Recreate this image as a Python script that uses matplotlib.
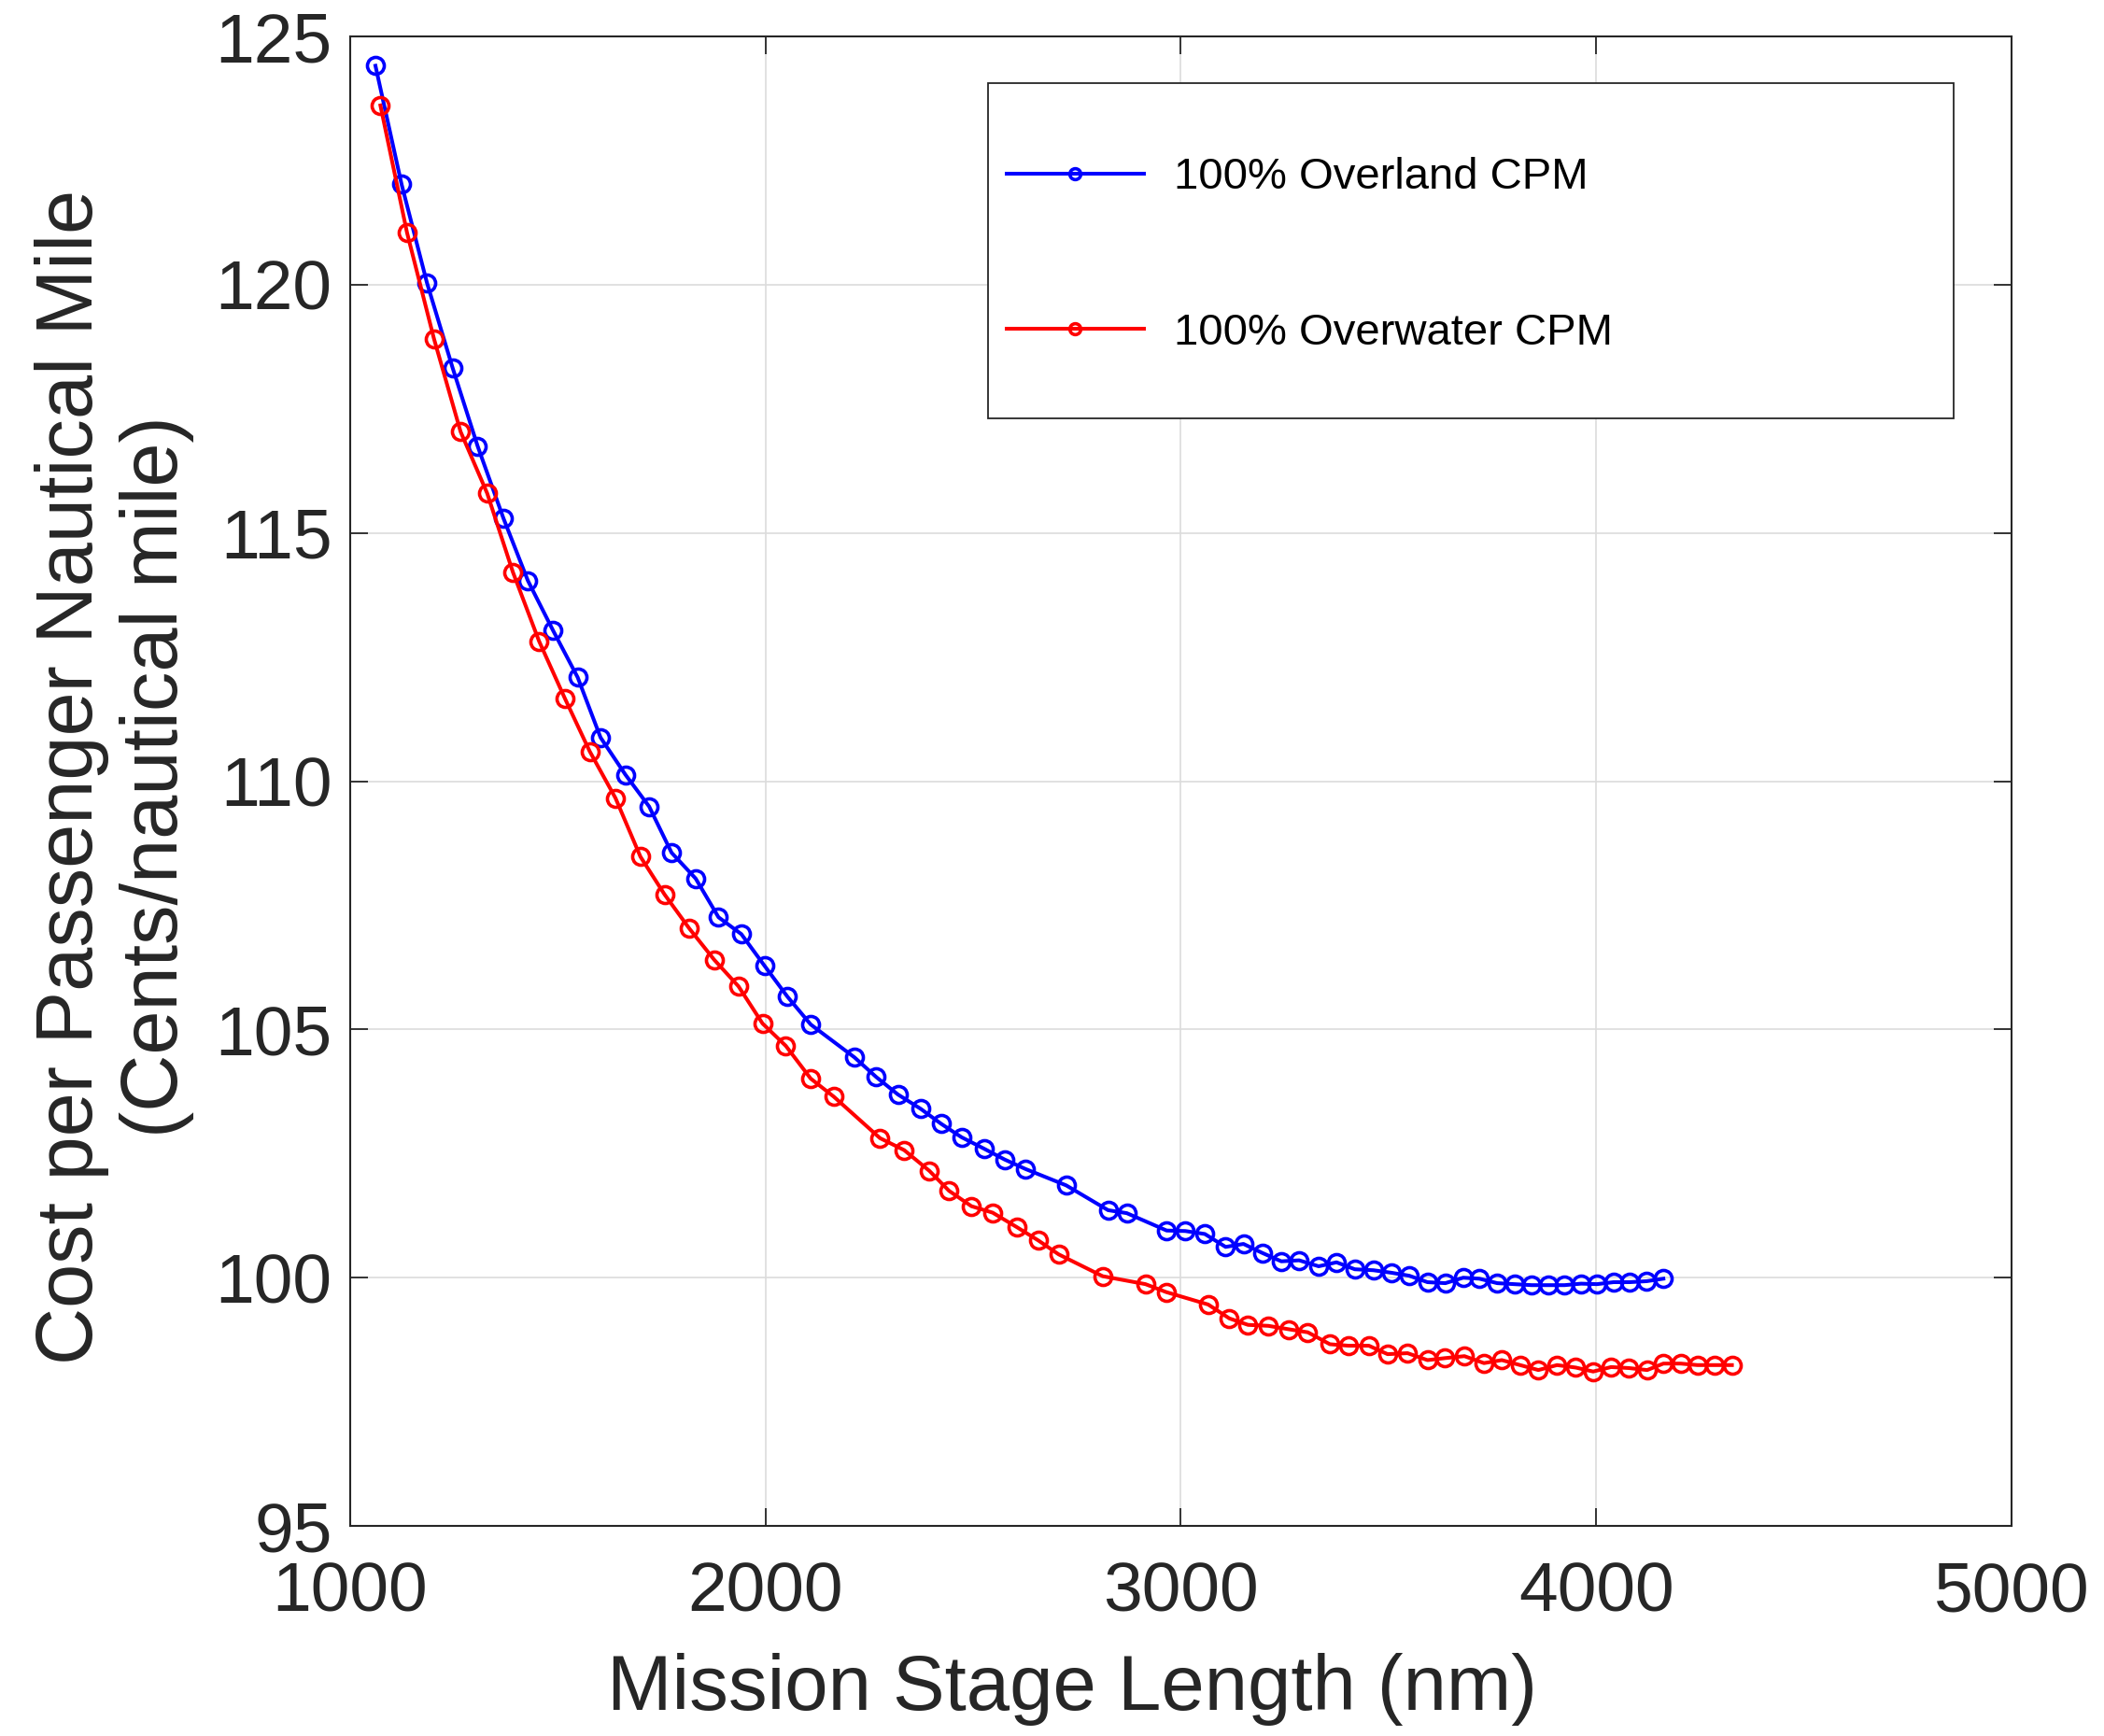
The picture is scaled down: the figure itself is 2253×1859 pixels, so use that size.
import matplotlib
matplotlib.use("Agg")
import matplotlib.pyplot as plt
from matplotlib.patches import Rectangle

plt.rcParams['font.family'] = ['Liberation Sans', 'DejaVu Sans']

# Overland series (stage length nm, cents per nautical mile)
overland_x = [1061, 1124, 1185, 1247, 1307, 1369, 1428, 1489, 1548, 1603, 1663, 1720,
              1774, 1832, 1887, 1942, 1998, 2053, 2109, 2214, 2267, 2319, 2374, 2423,
              2472, 2526, 2576, 2626, 2724, 2825, 2870, 2966, 3011, 3058, 3108, 3151,
              3196, 3242, 3285, 3332, 3375, 3419, 3464, 3507, 3550, 3594, 3637, 3680,
              3719, 3762, 3803, 3845, 3884, 3924, 3964, 4002, 4042, 4081, 4122, 4162]
overland_y = [124.41, 122.02, 120.04, 118.32, 116.75, 115.30, 114.04, 113.03, 112.09, 110.88,
              110.13, 109.49, 108.56, 108.04, 107.26, 106.92, 106.28, 105.66, 105.10, 104.44,
              104.04, 103.69, 103.40, 103.10, 102.83, 102.60, 102.38, 102.19, 101.86, 101.36,
              101.30, 100.95, 100.94, 100.88, 100.62, 100.68, 100.50, 100.33, 100.35, 100.23,
              100.31, 100.17, 100.15, 100.10, 100.04, 99.91, 99.89, 100.00, 99.98, 99.89,
              99.87, 99.85, 99.85, 99.85, 99.88, 99.87, 99.91, 99.91, 99.93, 99.98]

# Overwater series
overwater_x = [1073, 1137, 1202, 1266, 1330, 1392, 1455, 1517, 1577, 1639, 1699, 1757,
               1817, 1877, 1935, 1993, 2049, 2109, 2164, 2276, 2334, 2395, 2442, 2496,
               2547, 2605, 2657, 2706, 2812, 2915, 2965, 3066, 3117, 3162, 3211, 3261,
               3306, 3359, 3404, 3453, 3498, 3546, 3594, 3636, 3683, 3730, 3773, 3817,
               3861, 3906, 3951, 3993, 4036, 4079, 4123, 4162, 4204, 4244, 4285, 4327]
overwater_y = [123.61, 121.05, 118.91, 117.04, 115.80, 114.21, 112.82, 111.67, 110.60, 109.66,
               108.48, 107.72, 107.03, 106.40, 105.87, 105.12, 104.67, 104.01, 103.65, 102.81,
               102.57, 102.15, 101.75, 101.44, 101.31, 101.02, 100.75, 100.47, 100.03, 99.87,
               99.71, 99.46, 99.18, 99.05, 99.03, 98.96, 98.90, 98.66, 98.63, 98.63,
               98.46, 98.48, 98.34, 98.38, 98.42, 98.28, 98.34, 98.24, 98.14, 98.24,
               98.19, 98.11, 98.20, 98.18, 98.14, 98.27, 98.27, 98.24, 98.24, 98.24]

x_ticks = [1000, 2000, 3000, 4000, 5000]
y_ticks = [95, 100, 105, 110, 115, 120, 125]

fig = plt.figure(figsize=(22.53, 18.59), dpi=100)
ax = fig.add_axes([0.1664, 0.121, 0.7896, 0.858])

ax.plot(overland_x, overland_y, '-o', color='#0000ff', lw=2.9, ms=13,
        mfc='none', mew=2.6, label='100% Overland CPM')
ax.plot(overwater_x, overwater_y, '-o', color='#ff0000', lw=2.9, ms=13,
        mfc='none', mew=2.6, label='100% Overwater CPM')

ax.set_xlim(1000, 5000)
ax.set_ylim(95, 125)
ax.set_xticks(x_ticks)
ax.set_yticks(y_ticks)
ax.grid(True, color='#dcdcdc', lw=1.2)
ax.set_axisbelow(True)

ax.tick_params(direction='in', length=14, width=1.3, top=True, right=True,
               labelsize=54, colors='#262626')
ax.tick_params(axis='x', pad=27)
ax.tick_params(axis='y', pad=14)
for s in ax.spines.values():
    s.set_color('#262626')
    s.set_linewidth(1.5)

ax.set_xlabel('Mission Stage Length (nm)', fontsize=60, color='#262626')
ax.xaxis.set_label_coords(0.4346, -0.085)
ax.set_ylabel('Cost per Passenger Nautical Mile\n(Cents/nautical mile)',
              fontsize=61, color='#262626', linespacing=1.18)
ax.yaxis.set_label_coords(-0.094, 0.503)

# legend frame drawn separately to get MATLAB's roomy box
ax.add_patch(Rectangle((0.384, 0.7435), 0.581, 0.225, transform=ax.transAxes,
                       facecolor='white', edgecolor='#262626', lw=1.3, zorder=5))
leg = ax.legend(loc='center left', bbox_to_anchor=(0.395, 0.853), frameon=False,
                fontsize=34, handlelength=3.13, handletextpad=0.67, labelspacing=2.6,
                borderpad=0.0, borderaxespad=0.0, markerscale=0.65)
leg.set_zorder(6)

fig.savefig('out.png', dpi=100, facecolor='white')
